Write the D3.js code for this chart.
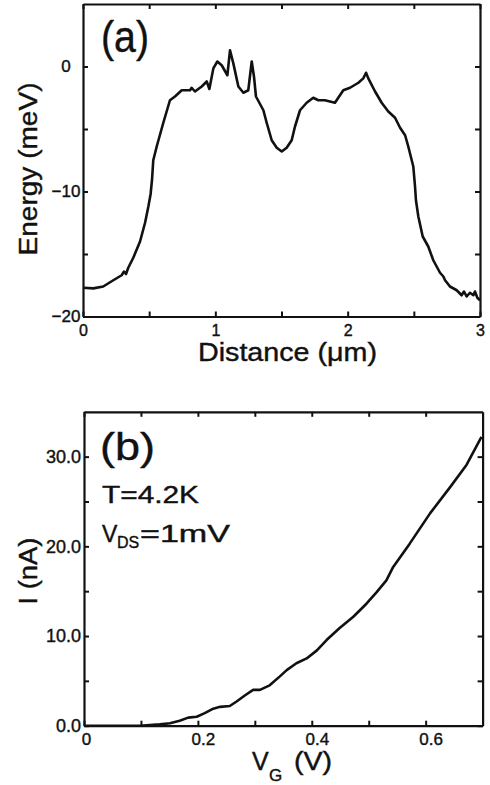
<!DOCTYPE html>
<html>
<head>
<meta charset="utf-8">
<script src="https://cdnjs.cloudflare.com/ajax/libs/d3/7.8.5/d3.min.js"></script>
<style>
  body { margin: 0; background: #fff; }
  svg text { font-family: "Liberation Sans", Arial, Helvetica, sans-serif; fill: #111; stroke: #111; stroke-width: 0.4px; }
</style>
</head>
<body>
<svg id="fig"></svg>
<script>
// panel (a): energy profile along the channel
var distance = [0, 0.078, 0.153, 0.229, 0.292, 0.31, 0.325, 0.342, 0.38, 0.431, 0.469, 0.494, 0.511, 0.522, 0.531,
  0.557, 0.607, 0.657, 0.695, 0.746, 0.809, 0.821, 0.846, 0.897, 0.935, 0.955, 0.985, 1.015, 1.048, 1.091,
  1.111, 1.136, 1.174, 1.212, 1.249, 1.275, 1.292, 1.307, 1.363, 1.388, 1.426, 1.464, 1.502, 1.539, 1.577,
  1.602, 1.64, 1.69, 1.74, 1.778, 1.828, 1.866, 1.904, 1.929, 1.967, 2.018, 2.081, 2.118, 2.139, 2.156,
  2.207, 2.257, 2.307, 2.358, 2.396, 2.434, 2.458, 2.496, 2.509, 2.516, 2.534, 2.567, 2.609, 2.647, 2.698,
  2.723, 2.736, 2.773, 2.824, 2.861, 2.879, 2.899, 2.924, 2.95, 2.962, 2.98, 3.0];
var energy = [-17.7, -17.75, -17.6, -17.1, -16.7, -16.4, -16.6, -16.1, -15.3, -14.0, -12.5, -11.2, -10.2, -9.0, -7.5,
  -6.4, -4.5, -2.7, -2.4, -1.9, -1.9, -1.7, -2.0, -1.6, -1.2, -1.8, -0.15, 0.4, 0.1, -0.7,
  1.3, 0.25, -1.6, -2.1, -1.9, 0.4, -0.8, -2.4, -3.5, -4.5, -5.9, -6.5, -6.8, -6.5, -5.9,
  -4.8, -3.5, -2.9, -2.5, -2.7, -2.7, -2.8, -2.9, -2.5, -1.9, -1.7, -1.3, -0.95, -0.5, -0.95,
  -2.0, -2.9, -3.6, -4.1, -4.9, -5.5, -6.4, -8.0, -9.6, -10.7, -12.0, -13.6, -14.4, -15.5, -16.5,
  -16.8, -17.1, -17.6, -17.9, -18.3, -18.0, -18.4, -18.1, -18.3, -18.0, -18.5, -18.7];

// panel (b): I-V_G characteristic
var gateV = [0, 0.098, 0.133, 0.151, 0.168, 0.183, 0.198, 0.212, 0.227, 0.239, 0.256, 0.268, 0.283, 0.297, 0.309,
  0.326, 0.344, 0.356, 0.373, 0.391, 0.409, 0.426, 0.449, 0.473, 0.496, 0.514, 0.531, 0.543, 0.572, 0.608,
  0.643, 0.672, 0.698];
var current = [0, 0, 0.15, 0.27, 0.56, 0.9, 1.0, 1.4, 1.9, 2.1, 2.2, 2.7, 3.4, 4.0, 4.0,
  4.5, 5.5, 6.2, 6.96, 7.5, 8.4, 9.55, 10.9, 12.15, 13.6, 14.9, 16.2, 17.7, 20.3, 23.7,
  26.6, 29.1, 32.2];

// ticks
var aXTicks = [0, 0.5, 1, 1.5, 2, 2.5, 3];
var aXLabels = [0, 1, 2, 3];
var aYTicks = [-20, -15, -10, -5, 0];
var aYLabels = [-20, -10, 0];
var bXTicks = [0, 0.1, 0.2, 0.3, 0.4, 0.5, 0.6];
var bXLabels = [0, 0.2, 0.4, 0.6];
var bYTicks = [0, 5, 10, 15, 20, 25, 30];
var bYLabels = [0, 10, 20, 30];

var width = 490, height = 785;
var svg = d3.select("#fig").attr("width", width).attr("height", height);

var line = d3.line()
    .x(function(d) { return d[0]; })
    .y(function(d) { return d[1]; });

function near(list, v) {
  return list.some(function(t) { return Math.abs(t - v) < 1e-9; });
}

// draws the four sides of a box with inward ticks
function drawFrame(x, y, xt, xl, yt, yl, fx, fy) {
  var g = svg.append("g");
  var x0 = x.range()[0], x1 = x.range()[1], y0 = y.range()[0], y1 = y.range()[1];

  var bottom = g.append("g").attr("transform", "translate(0," + y0 + ")")
    .call(d3.axisBottom(x).tickValues(xt).tickSize(-5).tickSizeOuter(0).tickPadding(8)
      .tickFormat(function(d) { return near(xl, d) ? fx(d) : ""; }));
  var top = g.append("g").attr("transform", "translate(0," + y1 + ")")
    .call(d3.axisTop(x).tickValues(xt).tickSize(-5).tickSizeOuter(0).tickFormat(""));
  var left = g.append("g").attr("transform", "translate(" + x0 + ",0)")
    .call(d3.axisLeft(y).tickValues(yt).tickSize(-5).tickSizeOuter(0).tickPadding(3)
      .tickFormat(function(d) { return near(yl, d) ? fy(d) : ""; }));
  var right = g.append("g").attr("transform", "translate(" + x1 + ",0)")
    .call(d3.axisRight(y).tickValues(yt).tickSize(-5).tickSizeOuter(0).tickFormat(""));

  g.selectAll(".domain").attr("stroke", "#111").attr("stroke-width", 2.2);
  g.selectAll(".tick line").attr("stroke", "#111").attr("stroke-width", 2);
  g.selectAll("text").attr("fill", "#111");
  return {bottom: bottom, left: left};
}

// ---------- panel (a)
var xa = d3.scaleLinear().domain([0, 3]).range([83, 480]);
var ya = d3.scaleLinear().domain([-20, 5]).range([316.5, 4]);

var fa = drawFrame(xa, ya, aXTicks, aXLabels, aYTicks, aYLabels, d3.format("d"), d3.format("d"));
fa.bottom.selectAll("text").style("font-size", "16px");
fa.left.selectAll("text").style("font-size", "17px")
  .attr("text-anchor", "middle").attr("x", -17);

svg.append("path")
  .datum(distance.map(function(d, i) { return [xa(d), ya(energy[i])]; }))
  .attr("d", line)
  .attr("fill", "none").attr("stroke", "#111").attr("stroke-width", 2.6)
  .attr("stroke-linejoin", "round");

svg.append("text").attr("x", 101).attr("y", 52)
  .attr("textLength", 48).attr("lengthAdjust", "spacingAndGlyphs")
  .style("font-size", "45px").text("(a)");

svg.append("text").attr("x", 198).attr("y", 361)
  .attr("textLength", 179).attr("lengthAdjust", "spacingAndGlyphs")
  .style("font-size", "25px").text("Distance (\u03bcm)");

svg.append("text").attr("transform", "translate(37,169) rotate(-90)")
  .attr("text-anchor", "middle")
  .attr("textLength", 173).attr("lengthAdjust", "spacingAndGlyphs")
  .style("font-size", "26px").text("Energy (meV)");

// ---------- panel (b)
var xb = d3.scaleLinear().domain([0, 0.7]).range([84, 482.6]);
var yb = d3.scaleLinear().domain([0, 35]).range([725.7, 411.8]);

var fb = drawFrame(xb, yb, bXTicks, bXLabels, bYTicks, bYLabels,
  function(d) { return d === 0 ? "0" : d3.format(".1f")(d); }, d3.format(".1f"));
fb.bottom.selectAll("text").style("font-size", "17px").attr("dy", "0.66em")
  .attr("dx", function(d) { return d === 0 ? 2 : 5; });
fb.left.selectAll("text").style("font-size", "18px");

svg.append("path")
  .datum(gateV.map(function(d, i) { return [xb(d), yb(current[i])]; }))
  .attr("d", line)
  .attr("fill", "none").attr("stroke", "#111").attr("stroke-width", 2.6)
  .attr("stroke-linejoin", "round");

svg.append("text").attr("x", 100).attr("y", 460)
  .attr("textLength", 55).attr("lengthAdjust", "spacingAndGlyphs")
  .style("font-size", "38px").text("(b)");

svg.append("text").attr("x", 102).attr("y", 503)
  .attr("textLength", 97).attr("lengthAdjust", "spacingAndGlyphs")
  .style("font-size", "23px").text("T=4.2K");

var vds = svg.append("text").attr("x", 102).attr("y", 542).style("font-size", "23px");
vds.append("tspan").text("V");
vds.append("tspan").attr("x", 117).attr("dy", 6).style("font-size", "16px").text("DS");
vds.append("tspan").attr("x", 140).attr("dy", -6)
  .attr("textLength", 90).attr("lengthAdjust", "spacingAndGlyphs").text("=1mV");

var vg = svg.append("text").attr("x", 252).attr("y", 770).style("font-size", "25px");
vg.append("tspan").text("V");
vg.append("tspan").attr("x", 269).attr("dy", 11).style("font-size", "17px").text("G");
vg.append("tspan").attr("x", 294).attr("dy", -11)
  .attr("textLength", 38).attr("lengthAdjust", "spacingAndGlyphs").text("(V)");

svg.append("text").attr("transform", "translate(37,571) rotate(-90)")
  .attr("text-anchor", "middle")
  .attr("textLength", 67).attr("lengthAdjust", "spacingAndGlyphs")
  .style("font-size", "26px").text("I (nA)");
</script>
</body>
</html>
